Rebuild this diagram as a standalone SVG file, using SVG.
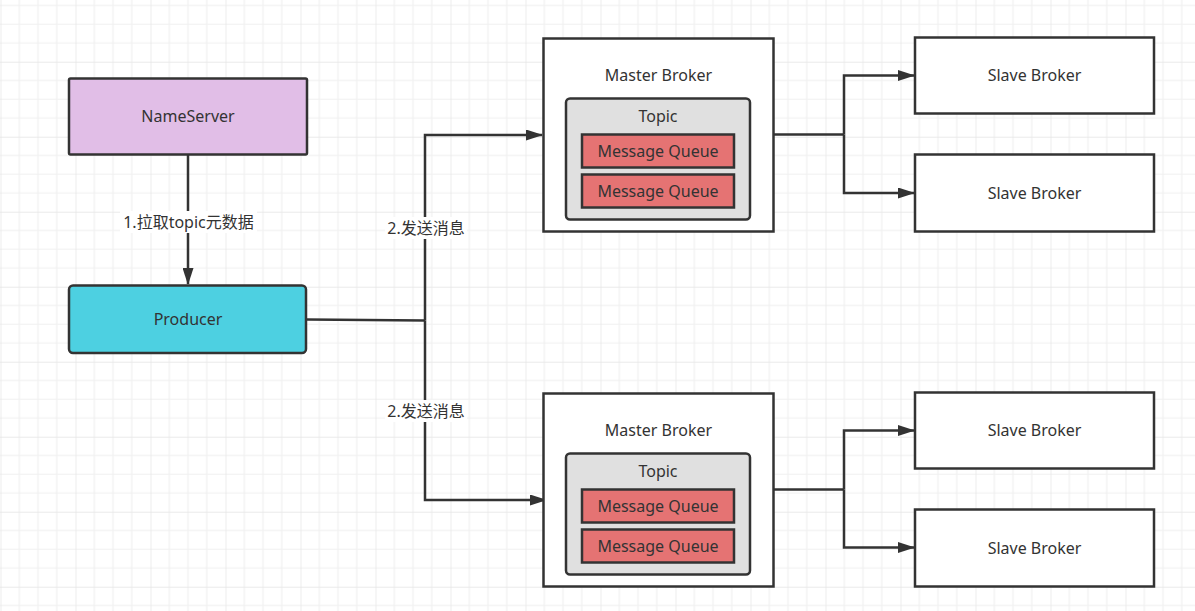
<svg xmlns="http://www.w3.org/2000/svg" width="1195" height="611" viewBox="0 0 1195 611">
<style>
.box{stroke:#333;stroke-width:2.5}
.t{font-family:"Noto Sans","Open Sans","Liberation Sans",sans-serif;font-size:16px;fill:#333;text-anchor:middle;dominant-baseline:central}
.lbl{font-family:"Noto Sans","Noto Sans CJK SC",sans-serif;font-size:16px;fill:#333;text-anchor:middle;dominant-baseline:central}
.c{fill:none;stroke:#333;stroke-width:2.5}
</style>
<defs>
<pattern id="grid" x="0.5" y="61.7" width="75" height="75" patternUnits="userSpaceOnUse">
<path d="M18.75 0V75M37.5 0V75M56.25 0V75M0 18.75H75M0 37.5H75M0 56.25H75" stroke="#f0f0f0" stroke-width="1.2" fill="none"/>
<path d="M0 0V75M0 0H75" stroke="#e4e4e4" stroke-width="1.3" fill="none"/>
</pattern>
<marker id="arr" markerWidth="17" markerHeight="11" refX="16" refY="5.5" orient="auto" markerUnits="userSpaceOnUse">
<path d="M0 0L17 5.5L0 11Z" fill="#333"/>
</marker>
</defs>
<rect width="1195" height="611" fill="#fff"/>
<rect width="1195" height="611" fill="url(#grid)"/>

<g id="connectors">
<path class="c" d="M188 155V284" marker-end="url(#arr)"/>
<path class="c" d="M307 319.5L425 320.5"/>
<path class="c" d="M425 320.5V135H542" marker-end="url(#arr)"/>
<path class="c" d="M425 320.5V500H546" marker-end="url(#arr)"/>
<path class="c" d="M774 134.5H844"/>
<path class="c" d="M844 134.5V75.5H914" marker-end="url(#arr)"/>
<path class="c" d="M844 134.5V193H914" marker-end="url(#arr)"/>
<path class="c" d="M774 489.5H844"/>
<path class="c" d="M844 489.5V430.5H914" marker-end="url(#arr)"/>
<path class="c" d="M844 489.5V547.5H914" marker-end="url(#arr)"/>
<rect x="120" y="211" width="137" height="22" fill="#fff"/>
<text class="lbl" x="188.5" y="222">1.拉取topic元数据</text>
<rect x="385" y="217" width="82" height="22" fill="#fff"/>
<text class="lbl" x="426" y="228">2.发送消息</text>
<rect x="385" y="400" width="82" height="22" fill="#fff"/>
<text class="lbl" x="426" y="411">2.发送消息</text>
</g>

<g id="nameserver">
<rect class="box" x="69" y="78.5" width="238" height="76" rx="1.5" fill="#e1bee7"/>
<text class="t" x="188" y="116">NameServer</text>
</g>
<g id="producer">
<rect class="box" x="69" y="285.5" width="237" height="67.5" rx="4" fill="#4dd0e1"/>
<text class="t" x="188" y="319">Producer</text>
</g>

<g id="master1">
<rect class="box" x="543.5" y="38.5" width="230" height="193" fill="#fff"/>
<text class="t" x="658.5" y="75">Master Broker</text>
<rect class="box" x="566" y="98.5" width="184" height="121" rx="4" fill="#e0e0e0"/>
<text class="t" x="658" y="116">Topic</text>
<rect class="box" x="582" y="134.5" width="152" height="33" fill="#e57373"/>
<text class="t" x="658" y="151">Message Queue</text>
<rect class="box" x="582" y="174.5" width="152" height="33" fill="#e57373"/>
<text class="t" x="658" y="191">Message Queue</text>
</g>

<g id="master2">
<rect class="box" x="543.5" y="393.5" width="230" height="193" fill="#fff"/>
<text class="t" x="658.5" y="430">Master Broker</text>
<rect class="box" x="566" y="453.5" width="184" height="121" rx="4" fill="#e0e0e0"/>
<text class="t" x="658" y="471">Topic</text>
<rect class="box" x="582" y="489.5" width="152" height="33" fill="#e57373"/>
<text class="t" x="658" y="506">Message Queue</text>
<rect class="box" x="582" y="529.5" width="152" height="33" fill="#e57373"/>
<text class="t" x="658" y="546">Message Queue</text>
</g>

<g id="slave1">
<rect class="box" x="915" y="37.5" width="239" height="76" fill="#fff"/>
<text class="t" x="1034.5" y="75">Slave Broker</text>
</g>
<g id="slave2">
<rect class="box" x="915" y="154.5" width="239" height="77" fill="#fff"/>
<text class="t" x="1034.5" y="193">Slave Broker</text>
</g>
<g id="slave3">
<rect class="box" x="915" y="392.5" width="239" height="76" fill="#fff"/>
<text class="t" x="1034.5" y="430">Slave Broker</text>
</g>
<g id="slave4">
<rect class="box" x="915" y="509.5" width="239" height="77" fill="#fff"/>
<text class="t" x="1034.5" y="548">Slave Broker</text>
</g>
</svg>
